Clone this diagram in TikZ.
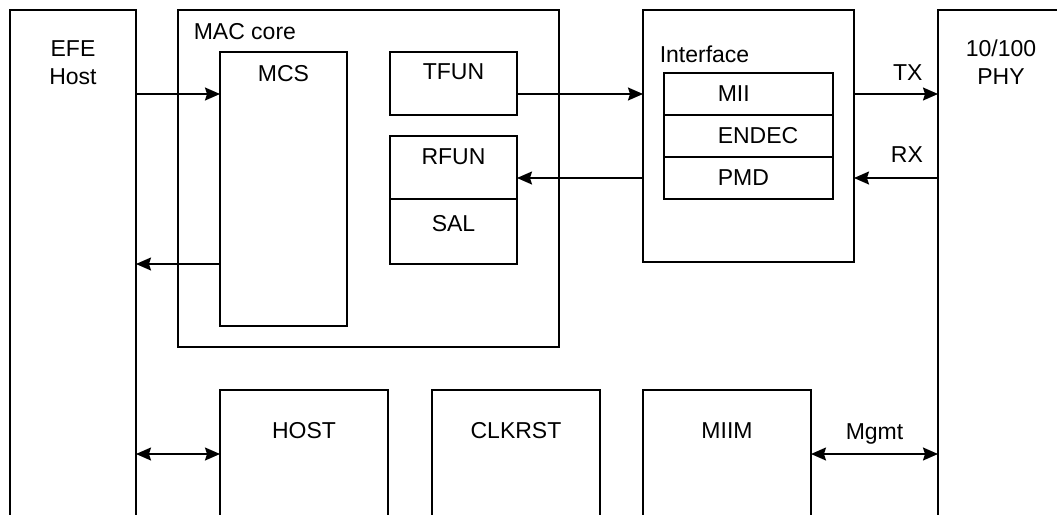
\documentclass[tikz,border=0pt]{standalone}
\usepackage{fontspec}
\setmainfont{Liberation Sans}
\usetikzlibrary{positioning, arrows.meta, calc}

\begin{document}
\begin{tikzpicture}[x=1pt, y=1pt, line width=1.5pt,
    blk/.style={draw, rectangle, inner sep=0pt, outer sep=0pt, anchor=north west},
    txt/.style={inner sep=0pt, font=\fontsize{23}{28}\selectfont},
    tip/.tip={Stealth[length=15pt, width=13pt, inset=2pt]},
    arr/.style={-tip},
    biarr/.style={tip-tip}]
    \clip (0,0) rectangle (1057,-514);

    % host side and phy side
    \node[blk, minimum width=126pt, minimum height=540pt] (efe) at (10,-10) {};
    \node[txt, align=center, below=30pt of efe.north] (efetxt) {EFE\\Host};
    \node[blk, minimum width=126pt, minimum height=540pt] (phy) at (938,-10) {};
    \node[txt, align=center, below=29pt of phy.north] (phytxt) {10/100\\PHY};

    % MAC core
    \node[blk, minimum width=381pt, minimum height=337pt] (mac) at (178,-10) {};
    \node[txt, below right=13pt and 15pt of mac.north west] (mactxt) {MAC core};
    \node[blk, minimum width=127pt, minimum height=274pt] (mcs) at (220,-52) {};
    \node[txt, below=13pt of mcs.north] (mcstxt) {MCS};
    \node[blk, minimum width=127pt, minimum height=63pt] (tfun) at (390,-52) {};
    \node[txt, below=11pt of tfun.north] (tfuntxt) {TFUN};
    \node[blk, minimum width=127pt, minimum height=63pt] (rfun) at (390,-136) {};
    \node[txt, below=12pt of rfun.north] (rfuntxt) {RFUN};
    \node[blk, minimum width=127pt, minimum height=65pt, below=0pt of rfun] (sal) {};
    \node[txt, below=16pt of sal.north] (saltxt) {SAL};

    % interface
    \node[blk, minimum width=211pt, minimum height=252pt] (iface) at (643,-10) {};
    \node[txt, below right=35pt and 16pt of iface.north west] (ifacetxt) {Interface};
    \foreach \nm/\lbl [count=\i from 0] in {mii/MII, endec/ENDEC, pmd/PMD} {
      \node[blk, minimum width=169pt, minimum height=42pt] (\nm) at (664,-73-42*\i) {};
      \node[txt, right=53pt of \nm.west] (\nm txt) {\lbl};
    }

    % bottom row
    \foreach \nm/\lbl/\x in {host/HOST/220, clkrst/CLKRST/432, miim/MIIM/643} {
      \node[blk, minimum width=168pt, minimum height=128pt] (\nm) at (\x,-390) {};
      \node[txt, below=32pt of \nm.north] (\nm txt) {\lbl};
    }

    % connections
    \draw[arr] (efe.east |- mii) -- (mcs.west |- mii);
    \draw[arr] (mcs.west |- sal.south) -- (efe.east |- sal.south);
    \draw[arr] (tfun.east |- mii) -- (iface.west |- mii);
    \draw[arr] (iface.west |- pmd) -- (rfun.east |- pmd);
    \draw[arr] (iface.east |- mii) -- (phy.west |- mii)
      node[txt, pos=0.64, above=13pt, text depth=0pt] (txlbl) {TX};
    \draw[arr] (phy.west |- pmd) -- (iface.east |- pmd)
      node[txt, pos=0.37, above=15pt, text depth=0pt] (rxlbl) {RX};
    \draw[biarr] (efe.east |- host) -- (host.west);
    \draw[biarr] (miim.east) -- (phy.west |- miim)
      node[txt, midway, above=14pt, text depth=0pt] (mgmtlbl) {Mgmt};
\end{tikzpicture}
\end{document}
